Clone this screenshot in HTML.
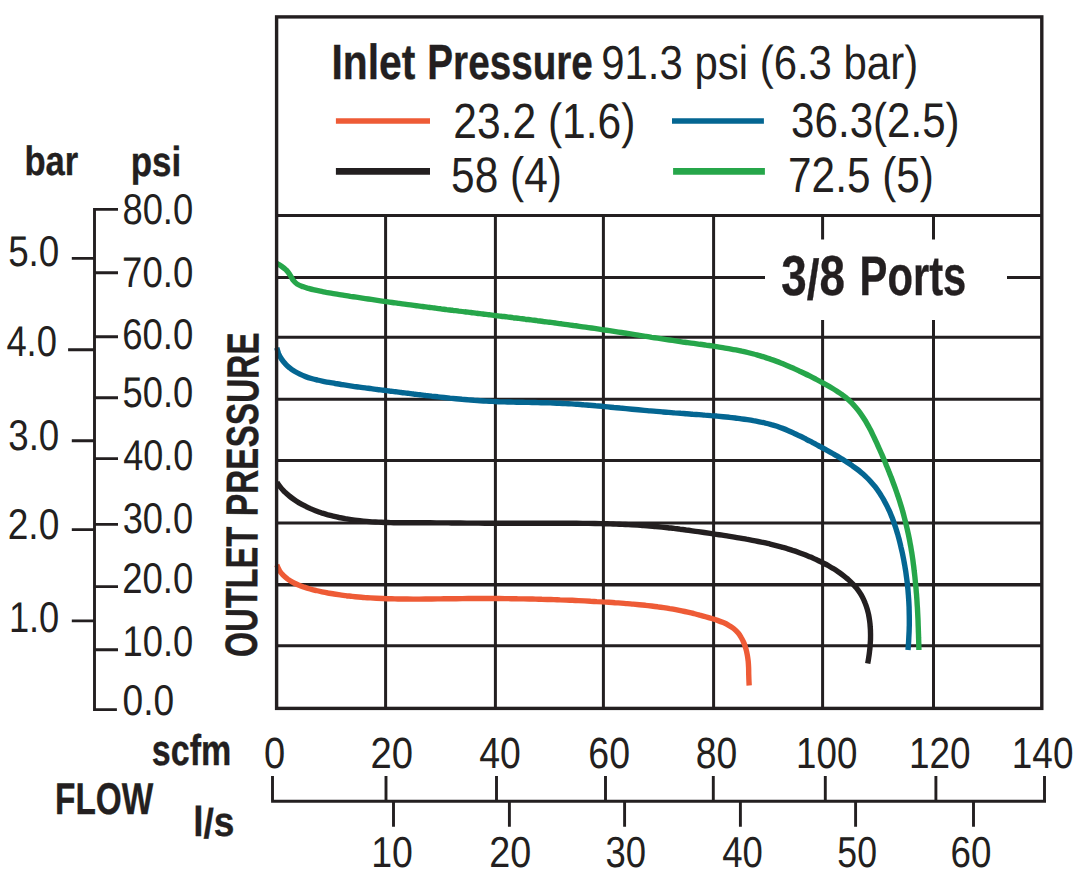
<!DOCTYPE html>
<html lang="en">
<head>
<meta charset="utf-8">
<title>Flow chart - 3/8 Ports</title>
<style>
html,body{margin:0;padding:0;background:#fff;}
body{width:1083px;height:887px;overflow:hidden;font-family:"Liberation Sans",sans-serif;}
svg{display:block;}
</style>
</head>
<body>
<svg width="1083" height="887" viewBox="0 0 1083 887" text-rendering="geometricPrecision">
<rect width="1083" height="887" fill="#ffffff"/>
<g fill="none" stroke="#231f20" stroke-width="3.0" stroke-linecap="butt">
<path d="M276.6 215.5H1041.8"/>
<path d="M276.6 277.4H765 M1007 277.4H1041.8"/>
<path d="M276.6 337.2H1041.8"/>
<path d="M276.6 399.3H1041.8"/>
<path d="M276.6 460.4H1041.8"/>
<path d="M276.6 522.9H1041.8"/>
<path d="M276.6 584.8H1041.8" stroke-width="3.6"/>
<path d="M276.6 645.7H1041.8"/>
<path d="M385.6 215.5V708.4"/>
<path d="M495.4 215.5V708.4"/>
<path d="M603.4 215.5V708.4"/>
<path d="M713.6 215.5V708.4"/>
<path d="M822.6 215.5V239.4 M822.6 320V708.4"/>
<path d="M933.5 215.5V239.4 M933.5 320V708.4"/>
</g>
<g fill="none" stroke-width="5.4" stroke-linejoin="round">
<path stroke="#26a64a" d="M276.2 263.0C277.1 263.5 279.8 265.0 281.5 266.2C283.1 267.3 284.8 268.5 286.2 270.0C287.6 271.4 288.8 273.1 289.9 274.8C291.1 276.5 291.9 278.5 293.1 280.1C294.3 281.6 295.6 283.0 297.2 284.1C298.8 285.2 300.7 285.9 302.6 286.6C304.5 287.4 306.5 287.9 308.4 288.4C310.4 289.0 312.3 289.5 314.3 289.9C316.3 290.4 318.3 290.8 320.3 291.2C322.2 291.6 324.2 291.9 326.2 292.3C328.2 292.6 330.2 293.0 332.2 293.3C334.2 293.6 336.2 294.0 338.2 294.3C340.2 294.6 342.3 295.0 344.3 295.3C346.3 295.6 348.3 295.9 350.3 296.3C352.3 296.6 354.3 296.9 356.3 297.2C358.3 297.5 360.3 297.8 362.3 298.1C364.3 298.4 366.3 298.7 368.3 299.0C370.3 299.3 372.3 299.6 374.3 299.9C376.3 300.2 378.4 300.5 380.4 300.8C382.4 301.1 384.4 301.4 386.4 301.6C388.4 301.9 390.4 302.2 392.4 302.5C394.4 302.8 396.4 303.0 398.4 303.3C400.5 303.6 402.5 303.9 404.5 304.1C406.5 304.4 408.5 304.7 410.5 304.9C412.5 305.2 414.5 305.5 416.5 305.7C418.5 306.0 420.6 306.2 422.6 306.5C424.6 306.8 426.6 307.0 428.6 307.3C430.6 307.5 432.6 307.8 434.6 308.0C436.7 308.3 438.7 308.6 440.7 308.8C442.7 309.1 444.7 309.3 446.7 309.6C448.7 309.8 450.7 310.1 452.7 310.3C454.8 310.6 456.8 310.8 458.8 311.1C460.8 311.3 462.8 311.5 464.8 311.8C466.8 312.0 468.9 312.3 470.9 312.5C472.9 312.8 474.9 313.0 476.9 313.3C478.9 313.5 480.9 313.8 482.9 314.0C485.0 314.2 487.0 314.5 489.0 314.7C491.0 315.0 493.0 315.2 495.0 315.5C497.0 315.7 499.0 316.0 501.1 316.2C503.1 316.4 505.1 316.7 507.1 316.9C509.1 317.2 511.1 317.4 513.1 317.7C515.1 317.9 517.1 318.2 519.2 318.4C521.2 318.7 523.2 318.9 525.2 319.2C527.2 319.4 529.2 319.7 531.2 319.9C533.2 320.2 535.3 320.4 537.3 320.7C539.3 320.9 541.3 321.2 543.3 321.5C545.3 321.7 547.3 322.0 549.3 322.2C551.3 322.5 553.3 322.8 555.3 323.0C557.4 323.3 559.4 323.6 561.4 323.8C563.4 324.1 565.4 324.4 567.4 324.6C569.4 324.9 571.4 325.2 573.4 325.5C575.4 325.7 577.4 326.0 579.4 326.3C581.4 326.6 583.5 326.9 585.5 327.1C587.5 327.4 589.5 327.7 591.5 328.0C593.5 328.3 595.5 328.6 597.5 328.9C599.5 329.2 601.5 329.5 603.5 329.8C605.5 330.1 607.5 330.4 609.5 330.7C611.5 331.0 613.5 331.3 615.5 331.6C617.5 331.9 619.5 332.2 621.5 332.5C623.5 332.8 625.5 333.2 627.5 333.5C629.5 333.8 631.5 334.1 633.5 334.4C635.5 334.7 637.5 335.1 639.5 335.4C641.5 335.7 643.5 336.0 645.5 336.3C647.5 336.6 649.6 336.9 651.6 337.3C653.6 337.6 655.6 337.9 657.6 338.2C659.6 338.5 661.6 338.8 663.6 339.1C665.6 339.4 667.6 339.7 669.6 340.0C671.6 340.3 673.6 340.6 675.6 340.9C677.7 341.2 679.7 341.5 681.7 341.8C683.7 342.1 685.7 342.3 687.7 342.6C689.7 342.9 691.8 343.2 693.8 343.4C695.8 343.7 697.8 344.0 699.8 344.3C701.8 344.5 703.8 344.8 705.9 345.1C707.9 345.4 709.9 345.6 711.9 345.9C713.9 346.2 715.9 346.5 717.9 346.8C719.9 347.1 721.9 347.5 723.9 347.8C725.9 348.1 727.9 348.5 729.9 348.8C731.9 349.2 733.9 349.6 735.9 349.9C737.9 350.3 739.9 350.7 741.8 351.2C743.8 351.6 745.8 352.0 747.7 352.5C749.7 353.0 751.7 353.5 753.6 354.0C755.6 354.5 757.5 355.1 759.4 355.6C761.4 356.2 763.3 356.8 765.2 357.4C767.1 358.1 769.1 358.7 771.0 359.4C772.9 360.0 774.8 360.7 776.7 361.4C778.6 362.1 780.5 362.9 782.3 363.6C784.2 364.4 786.1 365.1 788.0 365.9C789.8 366.7 791.7 367.5 793.6 368.3C795.4 369.2 797.3 370.0 799.1 370.9C801.0 371.7 802.8 372.6 804.6 373.5C806.5 374.4 808.3 375.3 810.1 376.2C812.0 377.2 813.8 378.1 815.6 379.0C817.4 380.0 819.2 381.0 821.0 381.9C822.8 382.9 824.6 383.9 826.4 384.9C828.2 385.9 830.0 386.9 831.8 388.0C833.5 389.0 835.3 390.1 837.0 391.2C838.7 392.3 840.3 393.5 842.0 394.6C843.6 395.8 845.2 397.1 846.7 398.3C848.2 399.6 849.7 401.0 851.1 402.3C852.6 403.7 853.9 405.2 855.2 406.7C856.5 408.2 857.8 409.7 859.0 411.3C860.2 412.9 861.3 414.5 862.4 416.2C863.5 417.9 864.6 419.6 865.7 421.3C866.7 423.0 867.7 424.8 868.7 426.6C869.6 428.4 870.6 430.2 871.5 432.0C872.4 433.9 873.3 435.7 874.2 437.6C875.0 439.4 875.9 441.3 876.8 443.2C877.6 445.0 878.4 446.9 879.3 448.8C880.1 450.7 880.9 452.5 881.8 454.4C882.6 456.3 883.4 458.2 884.2 460.0C885.0 461.9 885.8 463.8 886.5 465.7C887.3 467.6 888.1 469.4 888.8 471.3C889.6 473.2 890.3 475.1 891.1 477.0C891.8 478.9 892.5 480.8 893.2 482.7C893.9 484.6 894.6 486.5 895.3 488.4C896.0 490.3 896.6 492.2 897.3 494.1C897.9 496.0 898.6 497.9 899.2 499.8C899.8 501.8 900.4 503.7 901.0 505.6C901.6 507.5 902.2 509.5 902.7 511.4C903.3 513.4 903.8 515.3 904.3 517.3C904.8 519.2 905.3 521.2 905.8 523.1C906.3 525.1 906.7 527.0 907.2 529.0C907.6 531.0 908.1 533.0 908.5 534.9C908.9 536.9 909.3 538.9 909.7 540.9C910.0 542.9 910.4 544.9 910.8 546.9C911.1 548.9 911.4 550.9 911.8 552.9C912.1 554.9 912.4 556.9 912.7 558.9C913.0 560.9 913.2 562.9 913.5 565.0C913.8 567.0 914.0 569.0 914.2 571.0C914.5 573.0 914.7 575.1 914.9 577.1C915.1 579.1 915.3 581.1 915.5 583.2C915.7 585.2 915.9 587.2 916.1 589.3C916.2 591.3 916.4 593.3 916.6 595.4C916.7 597.4 916.9 599.4 917.0 601.5C917.1 603.5 917.2 605.5 917.4 607.5C917.5 609.6 917.6 611.6 917.7 613.6C917.8 615.7 917.9 617.7 918.0 619.7C918.1 621.8 918.1 623.8 918.2 625.8C918.3 627.8 918.4 629.9 918.4 631.9C918.5 633.9 918.6 635.9 918.6 637.9C918.7 640.0 918.7 642.0 918.8 644.0C918.8 646.0 918.9 649.0 918.9 650.0"/>
<path stroke="#046692" d="M276.8 347.7C277.1 348.7 277.9 351.8 278.6 353.7C279.4 355.6 280.4 357.3 281.5 359.0C282.6 360.7 283.8 362.2 285.2 363.7C286.5 365.2 288.0 366.5 289.6 367.8C291.1 369.1 292.8 370.2 294.5 371.3C296.3 372.4 298.1 373.3 299.9 374.2C301.7 375.1 303.6 375.9 305.6 376.6C307.5 377.3 309.4 377.9 311.4 378.5C313.3 379.1 315.3 379.6 317.3 380.0C319.2 380.5 321.2 380.9 323.2 381.3C325.2 381.7 327.2 382.1 329.2 382.4C331.2 382.8 333.2 383.1 335.2 383.5C337.2 383.8 339.2 384.1 341.2 384.5C343.2 384.8 345.2 385.1 347.2 385.4C349.2 385.7 351.3 386.0 353.3 386.3C355.3 386.6 357.3 386.8 359.3 387.1C361.3 387.4 363.3 387.7 365.3 387.9C367.3 388.2 369.3 388.4 371.3 388.7C373.4 389.0 375.4 389.2 377.4 389.5C379.4 389.7 381.4 390.0 383.4 390.2C385.4 390.5 387.4 390.7 389.5 391.0C391.5 391.2 393.5 391.5 395.5 391.7C397.5 392.0 399.5 392.2 401.5 392.5C403.5 392.7 405.6 393.0 407.6 393.2C409.6 393.5 411.6 393.7 413.6 394.0C415.6 394.2 417.6 394.5 419.7 394.7C421.7 395.0 423.7 395.2 425.7 395.5C427.7 395.7 429.7 395.9 431.7 396.2C433.8 396.4 435.8 396.6 437.8 396.8C439.8 397.1 441.8 397.3 443.8 397.5C445.9 397.7 447.9 397.9 449.9 398.1C451.9 398.3 453.9 398.5 455.9 398.7C458.0 398.9 460.0 399.1 462.0 399.3C464.0 399.4 466.0 399.6 468.1 399.8C470.1 399.9 472.1 400.1 474.1 400.3C476.2 400.4 478.2 400.6 480.2 400.7C482.2 400.8 484.2 400.9 486.3 401.1C488.3 401.2 490.3 401.3 492.3 401.4C494.4 401.5 496.4 401.6 498.4 401.7C500.5 401.7 502.5 401.8 504.5 401.9C506.5 401.9 508.6 402.0 510.6 402.0C512.6 402.1 514.7 402.1 516.7 402.2C518.7 402.2 520.8 402.3 522.8 402.3C524.8 402.3 526.8 402.4 528.9 402.4C530.9 402.4 532.9 402.5 535.0 402.5C537.0 402.6 539.0 402.6 541.1 402.7C543.1 402.7 545.1 402.8 547.2 402.8C549.2 402.9 551.2 402.9 553.2 403.0C555.3 403.1 557.3 403.2 559.3 403.2C561.4 403.3 563.4 403.4 565.4 403.6C567.4 403.7 569.5 403.8 571.5 403.9C573.5 404.0 575.5 404.2 577.6 404.3C579.6 404.5 581.6 404.6 583.6 404.8C585.6 404.9 587.7 405.1 589.7 405.2C591.7 405.4 593.7 405.6 595.8 405.8C597.8 405.9 599.8 406.1 601.8 406.3C603.8 406.5 605.9 406.7 607.9 406.9C609.9 407.1 611.9 407.3 613.9 407.5C616.0 407.6 618.0 407.8 620.0 408.0C622.0 408.2 624.0 408.4 626.1 408.6C628.1 408.8 630.1 409.0 632.1 409.2C634.1 409.4 636.2 409.6 638.2 409.8C640.2 410.0 642.2 410.2 644.2 410.4C646.3 410.6 648.3 410.7 650.3 410.9C652.3 411.1 654.4 411.3 656.4 411.4C658.4 411.6 660.4 411.8 662.4 411.9C664.5 412.1 666.5 412.3 668.5 412.4C670.5 412.6 672.6 412.7 674.6 412.9C676.6 413.0 678.6 413.1 680.7 413.3C682.7 413.4 684.7 413.6 686.7 413.7C688.8 413.9 690.8 414.0 692.8 414.2C694.8 414.3 696.8 414.4 698.9 414.6C700.9 414.8 702.9 414.9 704.9 415.1C707.0 415.2 709.0 415.4 711.0 415.6C713.0 415.7 715.0 415.9 717.1 416.1C719.1 416.3 721.1 416.5 723.1 416.7C725.1 416.9 727.2 417.1 729.2 417.3C731.2 417.6 733.2 417.8 735.2 418.0C737.3 418.3 739.3 418.5 741.3 418.8C743.3 419.1 745.3 419.4 747.3 419.7C749.3 420.0 751.3 420.3 753.3 420.7C755.3 421.0 757.4 421.4 759.3 421.8C761.3 422.2 763.3 422.6 765.3 423.1C767.3 423.5 769.2 424.0 771.2 424.6C773.1 425.1 775.1 425.7 777.0 426.3C778.9 427.0 780.8 427.7 782.7 428.4C784.6 429.1 786.5 429.9 788.3 430.7C790.2 431.5 792.0 432.3 793.8 433.2C795.7 434.0 797.5 434.9 799.3 435.8C801.1 436.6 802.9 437.5 804.7 438.4C806.4 439.3 808.2 440.3 810.0 441.2C811.8 442.1 813.6 443.1 815.4 444.0C817.1 445.0 818.9 445.9 820.7 446.9C822.5 447.9 824.3 448.8 826.1 449.8C827.9 450.8 829.7 451.8 831.5 452.8C833.3 453.8 835.1 454.9 836.9 455.9C838.7 456.9 840.4 458.0 842.2 459.1C844.0 460.2 845.7 461.3 847.4 462.4C849.2 463.5 850.9 464.7 852.5 465.9C854.2 467.0 855.8 468.2 857.5 469.5C859.1 470.7 860.6 472.0 862.2 473.3C863.7 474.6 865.2 476.0 866.6 477.4C868.1 478.8 869.5 480.2 870.8 481.7C872.1 483.2 873.4 484.7 874.7 486.2C875.9 487.8 877.1 489.4 878.2 491.0C879.4 492.7 880.5 494.4 881.5 496.1C882.6 497.8 883.6 499.5 884.5 501.3C885.5 503.0 886.4 504.8 887.3 506.6C888.2 508.4 889.0 510.3 889.9 512.2C890.7 514.0 891.4 515.9 892.2 517.8C892.9 519.7 893.6 521.6 894.3 523.6C895.0 525.5 895.6 527.5 896.2 529.4C896.8 531.4 897.4 533.4 898.0 535.3C898.5 537.3 899.1 539.3 899.6 541.3C900.1 543.3 900.6 545.3 901.0 547.3C901.5 549.3 902.0 551.3 902.4 553.3C902.8 555.3 903.2 557.3 903.6 559.3C904.0 561.3 904.3 563.3 904.7 565.2C905.0 567.2 905.4 569.2 905.7 571.2C906.0 573.2 906.2 575.2 906.5 577.2C906.8 579.2 907.0 581.2 907.3 583.2C907.5 585.2 907.7 587.2 907.9 589.2C908.1 591.2 908.2 593.2 908.4 595.2C908.5 597.2 908.7 599.3 908.8 601.3C908.9 603.3 909.0 605.3 909.1 607.3C909.1 609.3 909.2 611.3 909.2 613.3C909.3 615.4 909.3 617.4 909.3 619.4C909.3 621.4 909.3 623.5 909.3 625.5C909.2 627.5 909.2 629.5 909.1 631.6C909.0 633.6 908.9 635.7 908.8 637.7C908.7 639.7 908.6 641.8 908.5 643.8C908.3 645.9 908.1 649.0 908.0 650.0"/>
<path stroke="#231f20" d="M277.0 482.4C277.6 483.2 279.3 485.8 280.6 487.4C281.9 489.0 283.3 490.4 284.7 491.9C286.1 493.3 287.6 494.6 289.2 495.9C290.7 497.2 292.4 498.4 294.0 499.5C295.7 500.7 297.4 501.8 299.1 502.8C300.8 503.8 302.6 504.8 304.4 505.7C306.2 506.7 308.0 507.5 309.9 508.4C311.7 509.2 313.6 510.0 315.5 510.7C317.4 511.4 319.3 512.1 321.3 512.8C323.2 513.4 325.2 514.0 327.1 514.6C329.1 515.1 331.1 515.7 333.1 516.1C335.1 516.6 337.1 517.1 339.1 517.5C341.1 517.9 343.1 518.3 345.2 518.7C347.2 519.0 349.2 519.3 351.2 519.6C353.2 519.9 355.2 520.2 357.3 520.4C359.3 520.7 361.3 520.9 363.3 521.1C365.3 521.3 367.4 521.5 369.4 521.6C371.4 521.8 373.4 521.9 375.5 522.0C377.5 522.1 379.5 522.2 381.5 522.3C383.5 522.4 385.6 522.5 387.6 522.5C389.6 522.6 391.6 522.6 393.7 522.7C395.7 522.7 397.7 522.7 399.8 522.7C401.8 522.8 403.8 522.8 405.8 522.8C407.9 522.8 409.9 522.8 411.9 522.8C413.9 522.8 416.0 522.8 418.0 522.8C420.0 522.8 422.1 522.8 424.1 522.8C426.1 522.8 428.1 522.8 430.2 522.8C432.2 522.8 434.2 522.8 436.3 522.9C438.3 522.9 440.3 522.9 442.4 522.9C444.4 522.9 446.4 522.9 448.5 522.9C450.5 522.9 452.5 523.0 454.6 523.0C456.6 523.0 458.6 523.0 460.6 523.0C462.7 523.0 464.7 523.0 466.7 523.1C468.8 523.1 470.8 523.1 472.8 523.1C474.9 523.1 476.9 523.1 478.9 523.1C481.0 523.2 483.0 523.2 485.0 523.2C487.1 523.2 489.1 523.2 491.2 523.2C493.2 523.2 495.2 523.2 497.3 523.3C499.3 523.3 501.3 523.3 503.4 523.3C505.4 523.3 507.4 523.3 509.5 523.3C511.5 523.3 513.5 523.3 515.6 523.3C517.6 523.3 519.6 523.3 521.7 523.3C523.7 523.3 525.7 523.3 527.8 523.3C529.8 523.3 531.9 523.3 533.9 523.3C535.9 523.3 538.0 523.3 540.0 523.3C542.0 523.3 544.1 523.3 546.1 523.3C548.1 523.3 550.2 523.3 552.2 523.3C554.3 523.3 556.3 523.3 558.3 523.3C560.4 523.3 562.4 523.3 564.4 523.3C566.5 523.3 568.5 523.3 570.5 523.3C572.6 523.3 574.6 523.3 576.6 523.3C578.7 523.3 580.7 523.3 582.7 523.4C584.8 523.4 586.8 523.4 588.8 523.4C590.9 523.5 592.9 523.5 594.9 523.5C597.0 523.6 599.0 523.6 601.0 523.6C603.1 523.7 605.1 523.7 607.1 523.8C609.2 523.9 611.2 523.9 613.2 524.0C615.3 524.1 617.3 524.1 619.3 524.2C621.3 524.3 623.4 524.4 625.4 524.5C627.4 524.6 629.5 524.7 631.5 524.8C633.5 524.9 635.5 525.0 637.6 525.1C639.6 525.3 641.6 525.4 643.6 525.6C645.7 525.7 647.7 525.8 649.7 526.0C651.7 526.2 653.8 526.3 655.8 526.5C657.8 526.7 659.8 526.9 661.9 527.1C663.9 527.3 665.9 527.5 667.9 527.7C669.9 527.9 672.0 528.2 674.0 528.4C676.0 528.7 678.0 528.9 680.0 529.2C682.0 529.4 684.1 529.7 686.1 530.0C688.1 530.2 690.1 530.5 692.1 530.8C694.1 531.1 696.1 531.4 698.2 531.6C700.2 531.9 702.2 532.2 704.2 532.5C706.2 532.8 708.2 533.1 710.2 533.4C712.3 533.7 714.3 534.0 716.3 534.3C718.3 534.6 720.3 534.9 722.3 535.2C724.3 535.5 726.3 535.9 728.3 536.2C730.4 536.5 732.4 536.8 734.4 537.1C736.4 537.5 738.4 537.8 740.4 538.1C742.4 538.5 744.4 538.8 746.4 539.2C748.4 539.5 750.4 539.9 752.4 540.3C754.4 540.7 756.3 541.1 758.3 541.5C760.3 541.9 762.3 542.3 764.3 542.7C766.2 543.2 768.2 543.6 770.2 544.1C772.1 544.6 774.1 545.1 776.1 545.6C778.0 546.1 780.0 546.6 781.9 547.1C783.9 547.7 785.8 548.3 787.8 548.8C789.7 549.4 791.6 550.0 793.5 550.7C795.5 551.3 797.4 552.0 799.3 552.7C801.2 553.4 803.1 554.1 805.0 554.8C806.9 555.6 808.8 556.3 810.7 557.1C812.6 557.9 814.4 558.8 816.3 559.6C818.2 560.5 820.0 561.4 821.9 562.3C823.7 563.3 825.6 564.2 827.4 565.2C829.2 566.2 831.0 567.3 832.8 568.3C834.6 569.4 836.3 570.5 838.1 571.7C839.8 572.8 841.4 574.0 843.1 575.3C844.7 576.5 846.3 577.8 847.8 579.1C849.3 580.5 850.8 581.9 852.2 583.3C853.6 584.7 854.9 586.2 856.2 587.7C857.4 589.3 858.6 590.9 859.7 592.5C860.8 594.1 861.8 595.8 862.7 597.6C863.6 599.4 864.4 601.2 865.1 603.0C865.9 604.9 866.5 606.8 867.1 608.7C867.7 610.6 868.1 612.6 868.6 614.6C869.0 616.6 869.3 618.6 869.6 620.6C869.9 622.7 870.1 624.7 870.2 626.8C870.4 628.9 870.5 631.0 870.5 633.1C870.6 635.1 870.5 637.2 870.5 639.3C870.4 641.4 870.3 643.5 870.1 645.5C870.0 647.6 869.8 649.7 869.5 651.7C869.3 653.7 869.0 655.7 868.7 657.7C868.4 659.7 867.9 662.5 867.7 663.5"/>
<path stroke="#ee5b36" d="M276.8 564.9C277.2 565.8 278.3 568.8 279.4 570.5C280.4 572.2 281.7 573.7 283.1 575.2C284.5 576.6 286.1 577.9 287.7 579.1C289.3 580.2 291.1 581.3 292.9 582.3C294.7 583.3 296.6 584.1 298.5 585.0C300.4 585.8 302.3 586.5 304.2 587.2C306.2 587.8 308.1 588.4 310.1 589.0C312.1 589.6 314.0 590.1 316.0 590.5C318.0 591.0 320.0 591.4 322.0 591.8C324.0 592.2 326.0 592.6 328.0 593.0C330.0 593.3 332.1 593.7 334.1 594.0C336.1 594.3 338.1 594.6 340.1 594.9C342.1 595.2 344.1 595.4 346.2 595.7C348.2 595.9 350.2 596.2 352.2 596.4C354.2 596.6 356.3 596.8 358.3 597.0C360.3 597.2 362.3 597.3 364.4 597.5C366.4 597.6 368.4 597.8 370.4 597.9C372.5 598.0 374.5 598.1 376.5 598.2C378.6 598.3 380.6 598.4 382.6 598.5C384.7 598.6 386.7 598.7 388.7 598.7C390.8 598.8 392.8 598.8 394.8 598.9C396.9 598.9 398.9 599.0 401.0 599.0C403.0 599.0 405.0 599.0 407.1 599.0C409.1 599.1 411.2 599.1 413.2 599.1C415.2 599.1 417.3 599.1 419.3 599.1C421.4 599.0 423.4 599.0 425.4 599.0C427.5 599.0 429.5 599.0 431.6 599.0C433.6 598.9 435.7 598.9 437.7 598.9C439.7 598.9 441.8 598.8 443.8 598.8C445.9 598.8 447.9 598.8 450.0 598.7C452.0 598.7 454.1 598.7 456.1 598.7C458.1 598.6 460.2 598.6 462.2 598.6C464.3 598.6 466.3 598.6 468.4 598.5C470.4 598.5 472.4 598.5 474.5 598.5C476.5 598.5 478.6 598.5 480.6 598.5C482.6 598.5 484.7 598.5 486.7 598.5C488.8 598.5 490.8 598.5 492.8 598.5C494.9 598.5 496.9 598.5 499.0 598.5C501.0 598.6 503.0 598.6 505.1 598.6C507.1 598.6 509.2 598.6 511.2 598.7C513.2 598.7 515.3 598.7 517.3 598.8C519.4 598.8 521.4 598.8 523.4 598.9C525.5 598.9 527.5 598.9 529.5 599.0C531.6 599.0 533.6 599.1 535.7 599.1C537.7 599.2 539.7 599.2 541.8 599.3C543.8 599.3 545.8 599.4 547.9 599.5C549.9 599.5 552.0 599.6 554.0 599.6C556.0 599.7 558.1 599.8 560.1 599.9C562.1 599.9 564.2 600.0 566.2 600.1C568.2 600.2 570.3 600.3 572.3 600.3C574.3 600.4 576.4 600.5 578.4 600.6C580.5 600.7 582.5 600.8 584.5 600.9C586.6 601.0 588.6 601.1 590.6 601.2C592.7 601.3 594.7 601.4 596.7 601.6C598.8 601.7 600.8 601.8 602.8 601.9C604.9 602.0 606.9 602.2 608.9 602.3C611.0 602.4 613.0 602.5 615.0 602.7C617.1 602.8 619.1 603.0 621.1 603.1C623.1 603.3 625.2 603.4 627.2 603.6C629.2 603.8 631.3 603.9 633.3 604.1C635.3 604.3 637.3 604.5 639.4 604.7C641.4 604.9 643.4 605.1 645.4 605.3C647.5 605.6 649.5 605.8 651.5 606.0C653.5 606.3 655.6 606.6 657.6 606.8C659.6 607.1 661.6 607.4 663.6 607.7C665.6 608.0 667.6 608.3 669.7 608.7C671.7 609.0 673.7 609.3 675.7 609.7C677.7 610.1 679.7 610.5 681.7 610.9C683.7 611.3 685.7 611.7 687.7 612.1C689.7 612.6 691.7 613.1 693.7 613.5C695.7 614.0 697.7 614.5 699.7 615.1C701.7 615.6 703.7 616.1 705.6 616.7C707.6 617.3 709.6 617.9 711.6 618.5C713.6 619.1 715.6 619.7 717.5 620.4C719.5 621.1 721.4 621.8 723.3 622.6C725.2 623.4 727.0 624.3 728.7 625.3C730.5 626.3 732.1 627.3 733.6 628.5C735.2 629.8 736.6 631.1 737.8 632.6C739.1 634.1 740.2 635.7 741.2 637.5C742.2 639.2 743.1 641.0 743.9 642.9C744.7 644.8 745.3 646.8 745.9 648.8C746.5 650.8 746.9 652.9 747.3 655.0C747.7 657.0 747.9 659.1 748.2 661.2C748.4 663.3 748.5 665.4 748.6 667.5C748.7 669.5 748.7 671.6 748.7 673.6C748.8 675.7 748.8 677.7 748.9 679.7C749.0 681.7 749.1 684.6 749.2 685.6"/>
</g>
<rect x="276.6" y="16.9" width="765.20" height="691.50" fill="none" stroke="#231f20" stroke-width="3.4"/>
<path d="M335.9 121H430" stroke="#ee5b36" stroke-width="5.7"/>
<path d="M335.9 171.4H430" stroke="#231f20" stroke-width="6.8"/>
<path d="M672 121H763.9" stroke="#046692" stroke-width="5.7"/>
<path d="M673.1 171.4H764.9" stroke="#26a64a" stroke-width="6.8"/>
<g fill="none" stroke="#231f20" stroke-width="2.9">
<path d="M94.5 207.95V711.05M94.5 209.4H118.0M94.5 272.7H118.0M94.5 336.7H118.0M94.5 397.8H118.0M94.5 458.6H118.0M94.5 524.4H118.0M94.5 586.6H118.0M94.5 649.7H118.0M94.5 709.6H116.9M71.8 258.4H94.5M68.1 349.8H94.5M71.8 440.7H94.5M71.8 529.6H94.5M71.8 620.9H94.5"/>
<path d="M271.1 801.3H1046M272.5 776.0V801.3M386.0 776.0V801.3M496.5 776.0V801.3M605.5 776.0V801.3M713.3 776.0V801.3M825.3 776.0V801.3M935.9 776.0V801.3M1044.5 776.0V801.3M393.5 801.3V826.8M509.4 801.3V826.8M624.6 801.3V826.8M740.4 801.3V826.8M855.6 801.3V826.8M973.5 801.3V826.8"/>
</g>
<g fill="#231f20" font-family="'Liberation Sans', sans-serif">
<text font-weight="bold" stroke="#231f20" stroke-width="0.35"><tspan x="331.40" y="79.40" font-size="49.45" textLength="83.90" lengthAdjust="spacingAndGlyphs">Inlet</tspan> <tspan x="427.34" y="79.40" font-size="49.45" textLength="165.50" lengthAdjust="spacingAndGlyphs">Pressure</tspan></text>
<text x="601.21" y="78.72" font-size="47.63" textLength="316.90" lengthAdjust="spacingAndGlyphs">91.3 psi (6.3 bar)</text>
<text x="453.27" y="137.50" font-size="49.46" textLength="182.21" lengthAdjust="spacingAndGlyphs">23.2 (1.6)</text>
<text x="791.12" y="137.01" font-size="48.76" textLength="168.51" lengthAdjust="spacingAndGlyphs">36.3(2.5)</text>
<text x="451.10" y="192.20" font-size="49.61" textLength="110.74" lengthAdjust="spacingAndGlyphs">58 (4)</text>
<text x="788.08" y="192.20" font-size="49.61" textLength="145.83" lengthAdjust="spacingAndGlyphs">72.5 (5)</text>
<text font-weight="bold" stroke="#231f20" stroke-width="0.35"><tspan x="781.22" y="295.10" font-size="56.20" dy="0 3.6 -3.6" textLength="63.61" lengthAdjust="spacingAndGlyphs">3/8</tspan> <tspan x="859.53" y="294.90" font-size="55.71" textLength="106.84" lengthAdjust="spacingAndGlyphs">Ports</tspan></text>
<text x="24.50" y="175.49" font-size="41.22" font-weight="bold" stroke="#231f20" stroke-width="0.35" textLength="53.82" lengthAdjust="spacingAndGlyphs">bar</text>
<text x="130.68" y="175.90" font-size="41.79" font-weight="bold" stroke="#231f20" stroke-width="0.35" textLength="50.52" lengthAdjust="spacingAndGlyphs">psi</text>
<text x="151.76" y="765.00" font-size="43.17" font-weight="bold" stroke="#231f20" stroke-width="0.35" textLength="79.50" lengthAdjust="spacingAndGlyphs">scfm</text>
<text x="55.00" y="814.00" font-size="44.36" font-weight="bold" stroke="#231f20" stroke-width="0.35" textLength="98.29" lengthAdjust="spacingAndGlyphs">FLOW</text>
<text x="193.15" y="835.70" font-size="41.93" font-weight="bold" stroke="#231f20" stroke-width="0.35" dy="0 2.2 -2.2" textLength="41.36" lengthAdjust="spacingAndGlyphs">l/s</text>
<text transform="translate(256.75 656.00) rotate(-89.66)" font-size="45.16" font-weight="bold" stroke="#231f20" stroke-width="0.35"><tspan x="-1.31" y="0" textLength="130.52" lengthAdjust="spacingAndGlyphs">OUTLET</tspan> <tspan x="139.75" y="0" textLength="183.66" lengthAdjust="spacingAndGlyphs">PRESSURE</tspan></text>
<text x="122.45" y="224.37" font-size="42.97" textLength="70.76" lengthAdjust="spacingAndGlyphs">80.0</text>
<text x="122.08" y="286.87" font-size="42.97" textLength="71.14" lengthAdjust="spacingAndGlyphs">70.0</text>
<text x="122.17" y="348.87" font-size="42.97" textLength="71.04" lengthAdjust="spacingAndGlyphs">60.0</text>
<text x="122.55" y="406.57" font-size="42.97" textLength="70.66" lengthAdjust="spacingAndGlyphs">50.0</text>
<text x="123.19" y="470.37" font-size="42.97" textLength="70.01" lengthAdjust="spacingAndGlyphs">40.0</text>
<text x="122.64" y="533.17" font-size="42.97" textLength="70.57" lengthAdjust="spacingAndGlyphs">30.0</text>
<text x="122.17" y="592.57" font-size="42.97" textLength="71.04" lengthAdjust="spacingAndGlyphs">20.0</text>
<text x="122.58" y="655.67" font-size="42.97" textLength="70.63" lengthAdjust="spacingAndGlyphs">10.0</text>
<text x="122.52" y="715.17" font-size="42.97" textLength="51.58" lengthAdjust="spacingAndGlyphs">0.0</text>
<text x="8.13" y="265.87" font-size="42.97" textLength="51.16" lengthAdjust="spacingAndGlyphs">5.0</text>
<text x="6.38" y="355.67" font-size="42.97" textLength="50.59" lengthAdjust="spacingAndGlyphs">4.0</text>
<text x="8.22" y="450.07" font-size="42.97" textLength="51.06" lengthAdjust="spacingAndGlyphs">3.0</text>
<text x="7.75" y="538.97" font-size="42.97" textLength="51.55" lengthAdjust="spacingAndGlyphs">2.0</text>
<text x="8.88" y="632.07" font-size="42.97" textLength="50.38" lengthAdjust="spacingAndGlyphs">1.0</text>
<text x="263.88" y="767.76" font-size="43.67" textLength="21.20" lengthAdjust="spacingAndGlyphs">0</text>
<text x="370.39" y="767.76" font-size="43.67" textLength="42.54" lengthAdjust="spacingAndGlyphs">20</text>
<text x="479.16" y="767.76" font-size="43.67" textLength="41.53" lengthAdjust="spacingAndGlyphs">40</text>
<text x="588.33" y="767.76" font-size="43.67" textLength="41.67" lengthAdjust="spacingAndGlyphs">60</text>
<text x="695.72" y="767.76" font-size="43.67" textLength="41.47" lengthAdjust="spacingAndGlyphs">80</text>
<text x="796.05" y="767.76" font-size="43.67" textLength="61.27" lengthAdjust="spacingAndGlyphs">100</text>
<text x="909.03" y="767.76" font-size="43.67" textLength="61.59" lengthAdjust="spacingAndGlyphs">120</text>
<text x="1011.83" y="767.76" font-size="43.67" textLength="61.59" lengthAdjust="spacingAndGlyphs">140</text>
<text x="371.19" y="866.77" font-size="43.39" textLength="41.71" lengthAdjust="spacingAndGlyphs">10</text>
<text x="489.31" y="866.77" font-size="43.39" textLength="41.99" lengthAdjust="spacingAndGlyphs">20</text>
<text x="605.53" y="866.77" font-size="43.39" textLength="40.62" lengthAdjust="spacingAndGlyphs">30</text>
<text x="722.18" y="866.77" font-size="43.39" textLength="40.68" lengthAdjust="spacingAndGlyphs">40</text>
<text x="837.37" y="866.77" font-size="43.39" textLength="39.65" lengthAdjust="spacingAndGlyphs">50</text>
<text x="950.56" y="866.77" font-size="43.39" textLength="40.90" lengthAdjust="spacingAndGlyphs">60</text>
</g>
</svg>
</body>
</html>
